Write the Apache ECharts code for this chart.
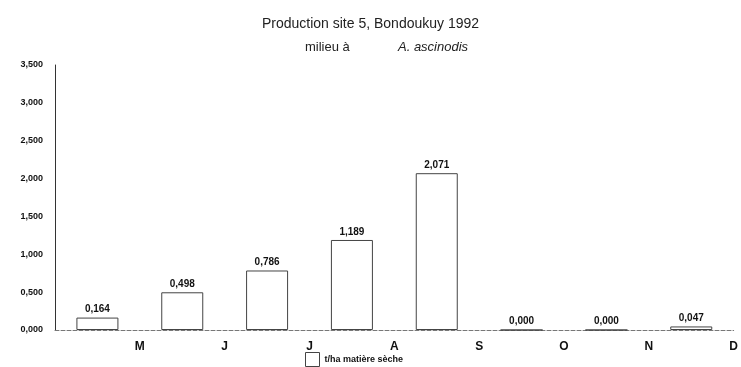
<!DOCTYPE html>
<html>
<head>
<meta charset="utf-8">
<script src="https://cdn.jsdelivr.net/npm/echarts@6/dist/echarts.min.js"></script>
<style>
  html, body { margin: 0; padding: 0; background: #fff; }
  #chart { width: 741px; height: 367px; }
</style>
</head>
<body>
<div id="chart"></div>
<script>
document.addEventListener('DOMContentLoaded', function() {

    const bars = ['1', '2', '3', '4', '5', '6', '7', '8'];
    const production = [0.164, 0.498, 0.786, 1.189, 2.071, 0.000, 0.000, 0.047];
    const monthLabels = ['', 'M', 'J', 'J', 'A', 'S', 'O', 'N', 'D'];

    const fmt = v => v.toFixed(3).replace('.', ',');
    const font = 'Liberation Sans, Arial, sans-serif';

    const chart = echarts.init(document.getElementById('chart'));

    chart.setOption({
        animation: false,
        title: [{
            text: 'Production site 5, Bondoukuy 1992',
            left: 'center',
            top: 12,
            textStyle: { fontFamily: font, fontSize: 14, fontWeight: 'normal', color: '#222' }
        }, {
            text: '{a|milieu à}{b|A. ascinodis}',
            left: 300,
            top: 36,
            textStyle: {
                fontWeight: 'normal',
                rich: {
                    a: { fontFamily: font, fontSize: 13, fontWeight: 'normal', color: '#222', width: 93 },
                    b: { fontFamily: font, fontSize: 13, fontWeight: 'normal', color: '#222', fontStyle: 'italic' }
                }
            }
        }],
        legend: {
            data: [{ name: 't/ha matière sèche', icon: 'rect' }],
            left: 305,
            bottom: 0,
            padding: 0,
            itemWidth: 14,
            itemHeight: 14,
            itemGap: 3,
            itemStyle: { borderWidth: 1, borderColor: '#444' },
            textStyle: { fontFamily: font, fontSize: 9, fontWeight: 'bold', color: '#111' }
        },
        grid: {
            top: 65,
            left: 55,
            right: 0,
            bottom: 37
        },
        xAxis: [{
            type: 'category',
            data: bars,
            axisLine: { lineStyle: { color: '#777', type: 'dashed', width: 1 } },
            axisTick: { show: false },
            axisLabel: { show: false }
        }, {
            type: 'value',
            position: 'bottom',
            min: 0,
            max: 8,
            interval: 1,
            axisLine: { show: false },
            axisTick: { show: false },
            splitLine: { show: false },
            axisLabel: {
                margin: 11,
                fontFamily: font,
                fontSize: 12,
                fontWeight: 'bold',
                color: '#111',
                formatter: v => monthLabels[v] || ''
            }
        }],
        yAxis: {
            type: 'value',
            min: 0,
            max: 3.5,
            interval: 0.5,
            axisLine: { show: true, lineStyle: { color: '#333', width: 1 } },
            axisTick: { show: false },
            splitLine: { show: false },
            axisLabel: {
                margin: 12,
                fontFamily: font,
                fontSize: 9,
                fontWeight: 'bold',
                color: '#111',
                formatter: v => fmt(v)
            }
        },
        series: [{
            name: 't/ha matière sèche',
            type: 'bar',
            data: production,
            barWidth: 42,
            itemStyle: { color: '#fff', borderColor: '#444', borderWidth: 1 },
            label: {
                show: true,
                position: 'top',
                distance: 3,
                fontFamily: font,
                fontSize: 10,
                fontWeight: 'bold',
                color: '#111',
                formatter: p => fmt(p.value)
            }
        }]
    });

});
</script>
</body>
</html>
